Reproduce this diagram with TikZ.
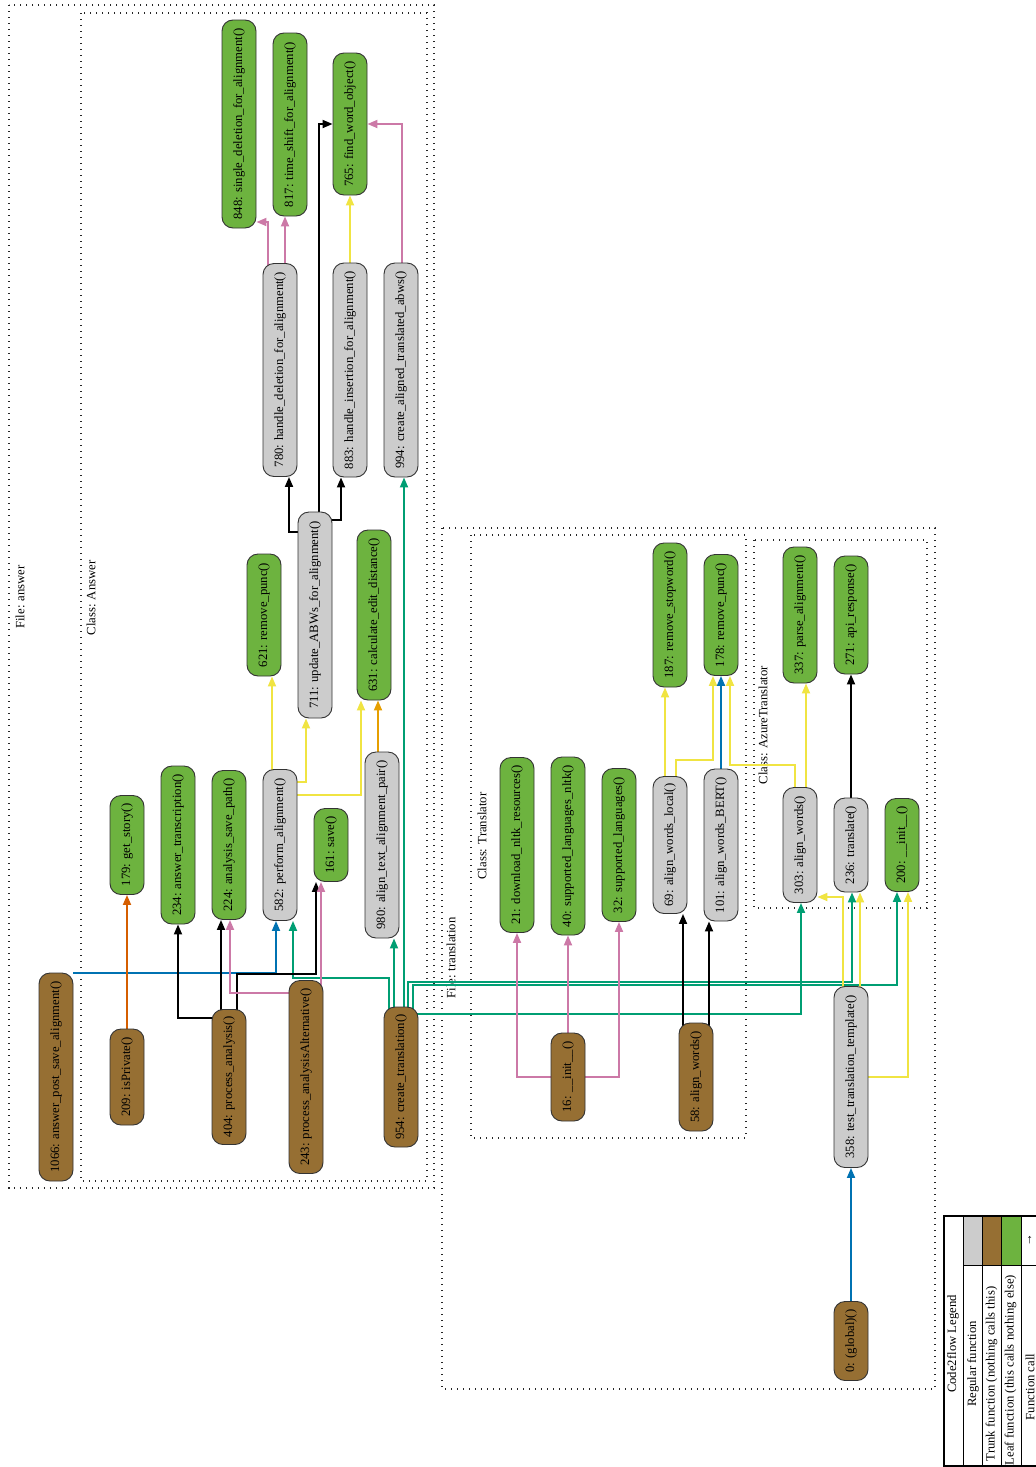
\documentclass[tikz,border=0pt]{standalone}
\usepackage{fontspec}
\setmainfont{Liberation Serif}
\usetikzlibrary{arrows.meta,backgrounds,calc}
\definecolor{cgray}{HTML}{CCCCCC}
\definecolor{cbrown}{HTML}{966F33}
\definecolor{cgreen}{HTML}{6DB33F}
\definecolor{cpink}{HTML}{CC79A7}
\definecolor{cyel}{HTML}{F0E442}
\definecolor{cgrn}{HTML}{009E73}
\definecolor{cblue}{HTML}{0072B2}
\definecolor{corng}{HTML}{E69F00}
\definecolor{cverm}{HTML}{D55E00}
\newcommand\nfont{\fontsize{12.7}{15}\selectfont}
\begin{document}
\begin{tikzpicture}[x=1pt,y=-1pt,
  fn/.style={rotate=90, draw=black!80, line width=0.9pt, rounded corners=11pt,
    minimum height=34pt, inner sep=0pt, text height=8.5pt, text depth=2.5pt, font=\nfont},
  reg/.style={fn, fill=cgray},
  trunk/.style={fn, fill=cbrown},
  leaf/.style={fn, fill=cgreen},
  e/.style={line width=1.8pt, -{Triangle[length=10pt,width=8pt]}},
  cluster/.style={draw=black!85, line width=1.1pt, dash pattern=on 1.1pt off 4.9pt},
  clabel/.style={rotate=90, font=\nfont, inner sep=0pt},
  ltext/.style={rotate=90, font=\nfont, inner sep=0pt}]
\useasboundingbox (0,0) rectangle (1036,1467);
\clip (0,0) rectangle (1036,1467);

% ---------- nodes: File answer ----------
\node[leaf, minimum width=208pt] (n848) at (239,124) {848: single\_deletion\_for\_alignment()};
\node[leaf, minimum width=183pt] (n817) at (290,124.5) {817: time\_shift\_for\_alignment()};
\node[leaf, minimum width=142pt] (n765) at (350,124) {765: find\_word\_object()};
\node[reg, minimum width=213pt] (n780) at (280,370) {780: handle\_deletion\_for\_alignment()};
\node[reg, minimum width=214pt] (n883) at (350,370) {883: handle\_insertion\_for\_alignment()};
\node[reg, minimum width=214pt] (n994) at (401,370) {994: create\_aligned\_translated\_abws()};
\node[leaf, minimum width=122pt] (n621) at (264,615) {621: remove\_punc()};
\node[reg, minimum width=206pt] (n711) at (315,615) {711: update\_ABWs\_for\_alignment()};
\node[leaf, minimum width=170pt] (n631) at (374,615) {631: calculate\_edit\_distance()};
\node[leaf, minimum width=99pt] (n179) at (127,845) {179: get\_story()};
\node[leaf, minimum width=158pt] (n234) at (178,845) {234: answer\_transcription()};
\node[leaf, minimum width=149pt] (n224) at (229,845) {224: analysis\_save\_path()};
\node[reg, minimum width=151pt] (n582) at (280,845) {582: perform\_alignment()};
\node[leaf, minimum width=73pt] (n161) at (331,845) {161: save()};
\node[reg, minimum width=186pt] (n980) at (382,845) {980: align\_text\_alignment\_pair()};
\node[trunk, minimum width=208pt] (n1066) at (56,1077) {1066: answer\_post\_save\_alignment()};
\node[trunk, minimum width=96pt] (n209) at (127,1077) {209: isPrivate()};
\node[trunk, minimum width=135pt] (n404) at (229,1077) {404: process\_analysis()};
\node[trunk, minimum width=193pt] (n243) at (306,1077) {243: process\_analysisAlternative()};
\node[trunk, minimum width=140pt] (n954) at (401,1077) {954: create\_translation()};

% ---------- nodes: File translation ----------
\node[leaf, minimum width=175pt] (n21) at (517,845) {21: download\_nltk\_resources()};
\node[leaf, minimum width=178pt] (n40) at (568,846) {40: supported\_languages\_nltk()};
\node[leaf, minimum width=153pt] (n32) at (619,845) {32: supported\_languages()};
\node[reg, minimum width=137pt] (n69) at (670,845) {69: align\_words\_local()};
\node[reg, minimum width=152pt] (n101) at (721,845) {101: align\_words\_BERT()};
\node[leaf, minimum width=144pt] (n187) at (670,615) {187: remove\_stopword()};
\node[leaf, minimum width=121pt] (n178) at (721,615) {178: remove\_punc()};
\node[leaf, minimum width=136pt] (n337) at (800,615) {337: parse\_alignment()};
\node[leaf, minimum width=118pt] (n271) at (851,615) {271: api\_response()};
\node[reg, minimum width=115pt] (n303) at (800,845) {303: align\_words()};
\node[reg, minimum width=94pt] (n236) at (851,845) {236: translate()};
\node[leaf, minimum width=93pt] (n200) at (902,845) {200: \_\_init\_\_()};
\node[trunk, minimum width=88pt] (n16) at (568,1077) {16: \_\_init\_\_()};
\node[trunk, minimum width=108pt] (n58) at (696,1077) {58: align\_words()};
\node[reg, minimum width=181pt] (n358) at (851,1077) {358: test\_translation\_template()};
\node[trunk, minimum width=79pt] (n0) at (851,1341) {0: (global)()};

\begin{pgfonlayer}{background}
\fill[white] (0,0) rectangle (1036,1467);
% ---------- clusters ----------
\draw[cluster] (9,5) rectangle (434,1188);
\draw[cluster] (81,13) rectangle (427,1181);
\draw[cluster] (442,528) rectangle (935,1389);
\draw[cluster] (471,535) rectangle (746,1138);
\draw[cluster] (754,540) rectangle (927,908);
\node[clabel] (lfa) at (20,597) {File: answer};
\node[clabel] (lca) at (91,598) {Class: Answer};
\node[clabel] (lft) at (451,958) {File: translation};
\node[clabel] (lct) at (482,836) {Class: Translator};
\node[clabel] (lcz) at (763,725) {Class: AzureTranslator};

% ---------- edges: answer ----------
\draw[e,cpink] (n780 -| 268,0) |- (n848.south |- 0,222);
\draw[e,cpink] (n780 -| 285,0) -- (n817.west -| 285,0);
\draw[e,black] (n711 |- 0,532) -| (n780.west -| 289,0);
\draw[e,black] (n711 |- 0,520) -| (n883.west -| 341,0);
\draw[e,black] (n711 -| 319,0) |- (n765.north |- 0,124);
\draw[e,cyel] (n883) -- (n765.west);
\draw[e,cpink] (n994 -| 402,0) |- (n765.south |- 0,124);
\draw[e,cgrn] (n954 -| 404,0) -- (n994.west -| 404,0);
\draw[e,cgrn] (n954 -| 394,0) -- (n980.west -| 394,0);
\draw[e,cgrn] (n954 -| 389,0) -- (389,978) -| (n582.west -| 293,0);
\draw[e,cblue] (n1066.south |- 0,973) -| (n582.west -| 276,0);
\draw[e,cverm] (n209) -- (n179.west);
\draw[e,black] (n404 |- 0,1018) -| (n234.west);
\draw[e,black] (n404 -| 221,0) -- (n224.west -| 221,0);
\draw[e,black] (n404 -| 237,0) -- (237,974) -| (n161.west -| 316,0);
\draw[e,cpink] (n243 |- 0,993) -| (n224.west -| 230,0);
\draw[e,cpink] (n243 -| 321,0) -- (n161.west -| 321,0);
\draw[e,corng] (n980 -| 378,0) -- (n631.west -| 378,0);
\draw[e,cyel] (n582 -| 272,0) -- (n621.west -| 272,0);
\draw[e,cyel] (n582 |- 0,782) -| (n711.west -| 306,0);
\draw[e,cyel] (n582 |- 0,795) -| (n631.west -| 361,0);

% ---------- edges: translation ----------
\draw[e,cgrn] (n954 |- 0,1014) -| (n303.west -| 801,0);
\draw[e,cgrn] (n954 -| 408,0) -- (408,982) -| (n236.west -| 852,0);
\draw[e,cgrn] (n954 -| 413,0) -- (413,985) -| (n200.west -| 897,0);
\draw[e,cyel] (n358 -| 843,0) |- (n303.south |- 0,897);
\draw[e,cyel] (n358 -| 860,0) -- (n236.west -| 860,0);
\draw[e,cyel] (n358) -| (n200.west -| 908,0);
\draw[e,cblue] (n0) -- (n358.west);
\draw[e,black] (n236) -- (n271.west);
\draw[e,cyel] (n303 -| 806,0) -- (n337.west -| 806,0);
\draw[e,cyel] (n303 -| 795,0) -- (795,765) -| (n178.west -| 730,0);
\draw[e,cyel] (n69 -| 665,0) -- (n187.west -| 665,0);
\draw[e,cyel] (n69 -| 676,0) -- (676,760) -| (n178.west -| 713,0);
\draw[e,cblue] (n101) -- (n178.west);
\draw[e,black] (n58 -| 683,0) -- (n69.west -| 683,0);
\draw[e,black] (n58 -| 709,0) -- (n101.west -| 709,0);
\draw[e,cpink] (n16) -| (n21.west);
\draw[e,cpink] (n16) -- (n40.west);
\draw[e,cpink] (n16) -| (n32.west);
\end{pgfonlayer}

% ---------- legend ----------
\fill[white] (944,1216) rectangle (1045,1466);
\fill[cgray] (963,1216) rectangle (982,1265);
\fill[cbrown] (982,1216) rectangle (1001,1265);
\fill[cgreen] (1001,1216) rectangle (1021,1265);
\draw[line width=1pt] (963,1216) -- (963,1466)
  (982,1216) -- (982,1466) (1001,1216) -- (1001,1466) (1021,1216) -- (1021,1466)
  (963,1265) -- (1045,1265);
\draw[line width=2.5pt] (944,1216) rectangle (1045,1466);
\node[ltext] (lg0) at (953,1344) {Code2flow Legend};
\node[ltext] (lg1) at (973,1364) {Regular function};
\node[ltext] (lg2) at (991.5,1374) {Trunk function (nothing calls this)};
\node[ltext] (lg3) at (1010.5,1370) {Leaf function (this calls nothing else)};
\node[ltext] (lg4) at (1030,1387) {Function call};
\node[ltext] (lg5) at (1030,1240) {→};
\end{tikzpicture}
\end{document}
